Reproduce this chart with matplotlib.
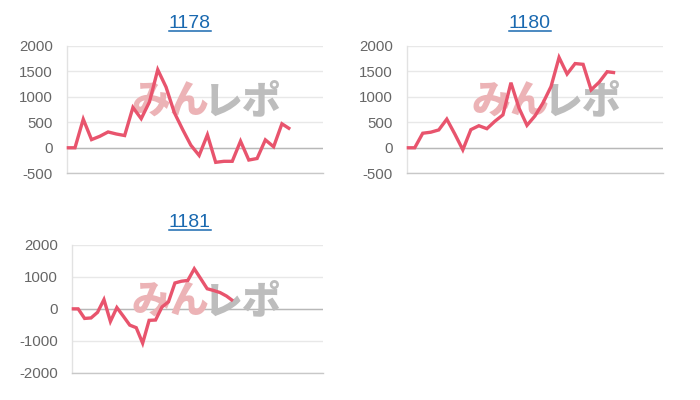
import matplotlib
matplotlib.use('Agg')
import matplotlib.pyplot as plt
from matplotlib.lines import Line2D

plt.rcParams['font.family'] = ['Liberation Sans', 'DejaVu Sans']

# ---- data ----
titles = ['1178', '1180', '1181']
s1178 = [0, 0, 560, 160, 225, 310, 270, 240, 790, 570, 900, 1530,
         1190, 690, 360, 50, -150, 255, -285, -265, -265, 130,
         -240, -210, 155, 20, 470, 365]
s1180 = [0, 0, 285, 305, 350, 561, 270, -40, 355, 432, 374, 520,
         645, 1275, 780, 440, 625, 880, 1200, 1770, 1445, 1650,
         1635, 1135, 1285, 1490, 1470]
s1181 = [0, 0, -300, -285, -110, 290, -395, 40, -230, -510, -590, -1075,
         -360, -350, 60, 220, 810, 865, 890, 1255, 945, 630, 575,
         510, 400, 250]
yticks_a = [-500, 0, 500, 1000, 1500, 2000]
yticks_b = [-2000, -1000, 0, 1000, 2000]
xslots = [31, 32, 39]

W, H = 700, 400
fig = plt.figure(figsize=(7, 4), dpi=100)

LINE = '#e8546d'
BLUE = '#1a69b0'

# (series, xmax, ylim, ticks, axes box px (x0, x1, ytop, ybot), title pos px, watermark center px)
panels = [
    (s1178, xslots[0], (-500, 2000), yticks_a, (66.7, 323.3, 45.7, 173.3), (190, 23), (206, 102)),
    (s1180, xslots[1], (-500, 2000), yticks_a, (406.7, 663.3, 45.7, 173.3), (530, 23), (546, 102)),
    (s1181, xslots[2], (-2000, 2000), yticks_b, (71.7, 323.3, 245.0, 372.7), (190, 222), (206, 302)),
]

title_texts = []
for (series, xmax, ylim, ticks, box, tpos, wpos), title in zip(panels, titles):
    x0, x1, yt, yb = box
    ax = fig.add_axes([x0 / W, 1 - yb / H, (x1 - x0) / W, (yb - yt) / H])
    ax.set_xlim(0, xmax)
    ax.set_ylim(*ylim)
    ax.set_yticks(ticks)
    ax.set_yticklabels([str(t) for t in ticks])
    ax.set_xticks([])
    for sp in ['top', 'right']:
        ax.spines[sp].set_visible(False)
    ax.spines['left'].set_color('#e2e2e2')
    ax.spines['left'].set_linewidth(1)
    ax.spines['bottom'].set_color('#c8c8c8')
    ax.spines['bottom'].set_linewidth(1)
    ax.yaxis.grid(True, color='#e8e8e8', linewidth=1)
    ax.set_axisbelow(True)
    ax.axhline(0, color='#b8b8b8', linewidth=1, zorder=1.5)
    ax.tick_params(axis='y', length=0, pad=10, labelsize=10.8, labelcolor='#666666')
    ax.tick_params(axis='x', length=0)

    # watermark
    wx, wy = wpos
    ax.text((wx + 3) / W, 1 - wy / H, 'みん', transform=fig.transFigure,
            family=['Noto Sans CJK JP', 'DejaVu Sans'], fontweight='heavy',
            fontsize=28, color='#ecb3b6', ha='right', va='center',
            zorder=2, clip_on=False)
    ax.text((wx - 3) / W, 1 - wy / H, 'レポ', transform=fig.transFigure,
            family=['Noto Sans CJK JP', 'DejaVu Sans'], fontweight='heavy',
            fontsize=28, color='#bdbdbd', ha='left', va='center',
            zorder=2, clip_on=False)

    ax.plot(range(len(series)), series, color=LINE, linewidth=2.4,
            solid_joinstyle='miter', solid_capstyle='butt', zorder=3, clip_on=False)

    t = fig.text(tpos[0] / W, 1 - tpos[1] / H, title, color=BLUE, fontsize=14,
                 ha='center', va='center')
    title_texts.append(t)

# underline the titles (links)
fig.canvas.draw()
r = fig.canvas.get_renderer()
for t in title_texts:
    bb = t.get_window_extent(renderer=r)
    yline = bb.y0 + 0.5
    fig.add_artist(Line2D([bb.x0 / W, bb.x1 / W], [yline / H, yline / H],
                          transform=fig.transFigure, color=BLUE, linewidth=1.1))

fig.savefig('out.png', dpi=100)
